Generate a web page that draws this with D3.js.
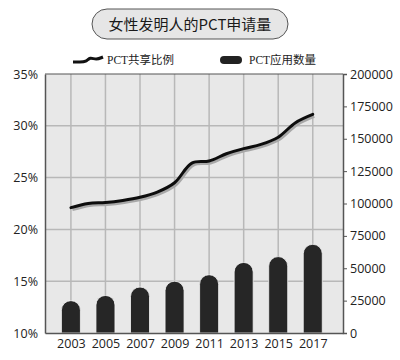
<!DOCTYPE html>
<html><head><meta charset="utf-8">
<script src="https://cdn.jsdelivr.net/npm/d3@7"></script>
<style>body{margin:0;background:#fff}svg{display:block}</style>
</head><body>
<script>
const title = "女性发明人的PCT申请量";
const legendLine = "PCT共享比例";
const legendBar = "PCT应用数量";
const barYears = [2003, 2005, 2007, 2009, 2011, 2013, 2015, 2017];
const barValues = [25000, 29000, 35500, 40000, 45000, 54500, 59000, 68500];
const lineYears = [2003,2004,2005,2006,2007,2008,2009,2010,2011,2012,2013,2014,2015,2016,2017];
const lineValues = [22.1,22.5,22.6,22.8,23.1,23.6,24.5,26.4,26.6,27.3,27.8,28.2,28.9,30.3,31.1];
const leftTicks = [10,15,20,25,30,35];
const rightTicks = [0,25000,50000,75000,100000,125000,150000,175000,200000];

const W=400,H=360;
const L=45,R=343,T=74,B=333;
const svg=d3.select("body").append("svg").attr("width",W).attr("height",H);
const x=d3.scaleLinear().domain([2001.5,2018.75]).range([L,R]);
const yL=d3.scaleLinear().domain([10,35]).range([B,T]);
const yR=d3.scaleLinear().domain([0,200000]).range([B,T]);

// title
svg.append("rect").attr("x",92).attr("y",9).attr("width",196).attr("height",30).attr("rx",15)
  .attr("fill","#e6e6e6").attr("stroke","#555").attr("stroke-width",1);
svg.append("text").attr("x",190).attr("y",29.5).attr("text-anchor","middle")
  .attr("font-family","'Noto Sans CJK SC'").attr("font-size",15).attr("fill","#1a1a1a").text(title);

// legend
const wave=d3.line().curve(d3.curveBasis)([[73,62],[80,62],[86,62],[90,57],[96,60],[103,57]]);
svg.append("path").attr("d",wave).attr("fill","none").attr("stroke","#111").attr("stroke-width",3);
svg.append("text").attr("x",107).attr("y",64).attr("font-family","'Liberation Serif','Noto Sans CJK SC'")
  .attr("font-size",11.5).attr("fill","#222").text(legendLine);
svg.append("rect").attr("x",220).attr("y",56).attr("width",22).attr("height",8).attr("rx",4).attr("fill","#222");
svg.append("text").attr("x",249).attr("y",64).attr("font-family","'Liberation Serif','Noto Sans CJK SC'")
  .attr("font-size",11.5).attr("fill","#222").text(legendBar);

// plot bg
svg.append("rect").attr("x",L).attr("y",T).attr("width",R-L).attr("height",B-T).attr("fill","#e8e8e8");
// grid
const g=svg.append("g");
g.selectAll(".hg").data(leftTicks.filter(d=>d>10&&d<35)).join("line")
  .attr("x1",L).attr("x2",R).attr("y1",d=>yL(d)).attr("y2",d=>yL(d)).attr("stroke","#b8b8b8").attr("stroke-width",1.5);
g.selectAll(".vg").data(barYears).join("line")
  .attr("x1",d=>x(d)).attr("x2",d=>x(d)).attr("y1",T).attr("y2",B).attr("stroke","#b8b8b8").attr("stroke-width",1.5);

// bars
const bw=19;
svg.selectAll(".bar").data(barYears).join("path")
  .attr("d",(d,i)=>{const cx=x(d),x0=cx-bw/2,x1=cx+bw/2,yt=yR(barValues[i]),r=bw/2;
    return `M${x0},${B}L${x0},${yt+r}A${r},${r} 0 0 1 ${x1},${yt+r}L${x1},${B}Z`;})
  .attr("fill","#262626").attr("stroke","#f4f4f4").attr("stroke-width",0.8);

// line
const ln=d3.line().x((d,i)=>x(lineYears[i])).y(d=>yL(d)).curve(d3.curveCatmullRom);
svg.append("path").attr("d",ln(lineValues)).attr("fill","none").attr("stroke","#a8a8a8").attr("stroke-width",3)
  .attr("transform","translate(1.5,2)");
svg.append("path").attr("d",ln(lineValues)).attr("fill","none").attr("stroke","#0d0d0d").attr("stroke-width",3).attr("stroke-linecap","round");

// frame
svg.append("line").attr("x1",L).attr("x2",R).attr("y1",T).attr("y2",T).attr("stroke","#555").attr("stroke-width",1.2);

// axes
const fam="'Open Sans','DejaVu Sans'";
const ax=svg.append("g").attr("transform",`translate(${L},0)`)
  .call(d3.axisLeft(yL).tickValues(leftTicks).tickSize(0).tickPadding(7).tickFormat(d=>d+"%"));
const ar=svg.append("g").attr("transform",`translate(${R},0)`)
  .call(d3.axisRight(yR).tickValues(rightTicks).tickSize(4).tickPadding(3).tickFormat(d3.format("d")));
const ab=svg.append("g").attr("transform",`translate(0,${B})`)
  .call(d3.axisBottom(x).tickValues(barYears).tickSize(0).tickPadding(6).tickFormat(d3.format("d")));
[ax,ar,ab].forEach(a=>{a.select(".domain").attr("stroke","#555").attr("stroke-width",1.5);
  a.selectAll(".tick line").attr("stroke","#555");
  a.selectAll("text").attr("font-family",fam).attr("font-size",12.5).attr("fill","#222");});
</script>
</body></html>
